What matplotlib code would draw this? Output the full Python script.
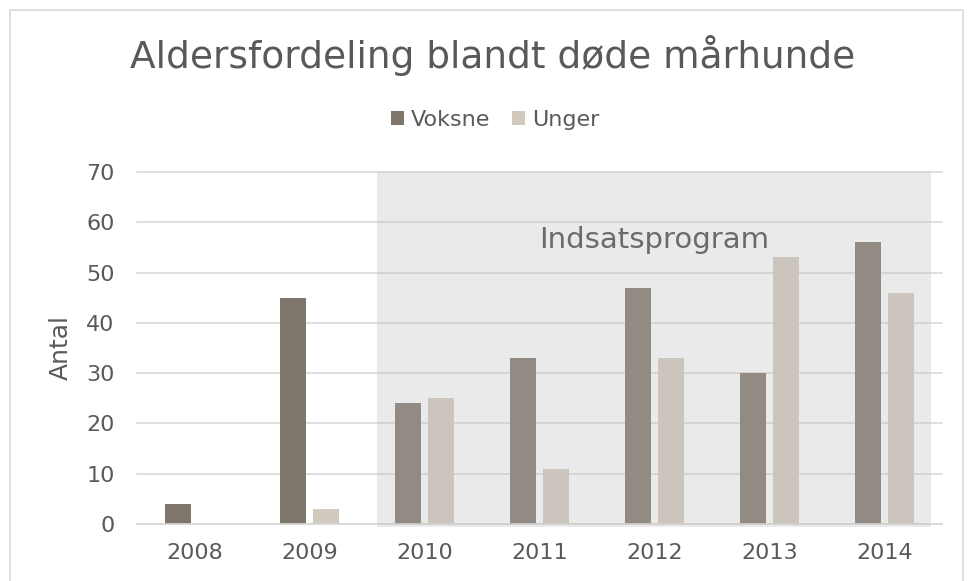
import matplotlib.pyplot as plt
import matplotlib.patches as mpatches
import numpy as np

# data
years = ['2008', '2009', '2010', '2011', '2012', '2013', '2014']
voksne = [4, 45, 24, 33, 47, 30, 56]
unger = [0, 3, 25, 11, 33, 53, 46]

W, H = 969, 581
fig = plt.figure(figsize=(W / 100, H / 100), dpi=100)

# outer chart border
fig.patches.append(mpatches.Rectangle((10 / W, -0.01), (963 - 10) / W, 1 - 10 / H + 0.01,
                                      transform=fig.transFigure, fill=False,
                                      edgecolor='#d9d9d9', linewidth=1.2))

ax = fig.add_axes([137 / W, (H - 524) / H, (942 - 137) / W, (524 - 172) / H])

x = np.arange(len(years))
bw = 0.225
off = 0.143
ax.bar(x - off, voksne, bw, color='#7f766b', label='Voksne', zorder=2)
ax.bar(x + off, unger, bw, color='#d3cabf', label='Unger', zorder=2)

# shaded area over the program years
ax.add_patch(mpatches.Rectangle((1.59, -0.5), 6.40 - 1.59, 70.5, facecolor='#bcbcbc',
                                alpha=0.3, edgecolor='none', zorder=3, clip_on=False))
ax.text(4, 56.5, 'Indsatsprogram', ha='center', va='center', fontsize=21,
        color='#6b6b6b', zorder=4)

ax.set_xlim(-0.5, 6.5)
ax.set_ylim(0, 70)
ax.set_yticks(range(0, 71, 10))
ax.set_xticks(x)
ax.set_xticklabels(years)
ax.tick_params(axis='both', length=0, labelsize=16, labelcolor='#595959')
ax.tick_params(axis='y', pad=16)
ax.tick_params(axis='x', pad=14)
ax.grid(axis='y', color='#d9d9d9', linewidth=1.2, zorder=0)
for gl in ax.get_ygridlines():
    gl.set_clip_on(False)
ax.set_axisbelow(True)
for s in ['top', 'right', 'left']:
    ax.spines[s].set_visible(False)
ax.spines['bottom'].set_color('#d9d9d9')
ax.spines['bottom'].set_linewidth(1.2)
ax.set_ylabel('Antal', fontsize=18, color='#595959', labelpad=10)

fig.text(493 / W, 1 - 55 / H, 'Aldersfordeling blandt døde mårhunde', ha='center',
         va='center', fontsize=27, color='#595959')

fig.legend(loc='center', bbox_to_anchor=(495 / W, 1 - 120 / H), ncol=2, frameon=False,
           fontsize=16, labelcolor='#595959', handlelength=0.6, handleheight=0.6,
           handletextpad=0.3, columnspacing=1.0)

fig.savefig('out.png', dpi=100, facecolor='white')
